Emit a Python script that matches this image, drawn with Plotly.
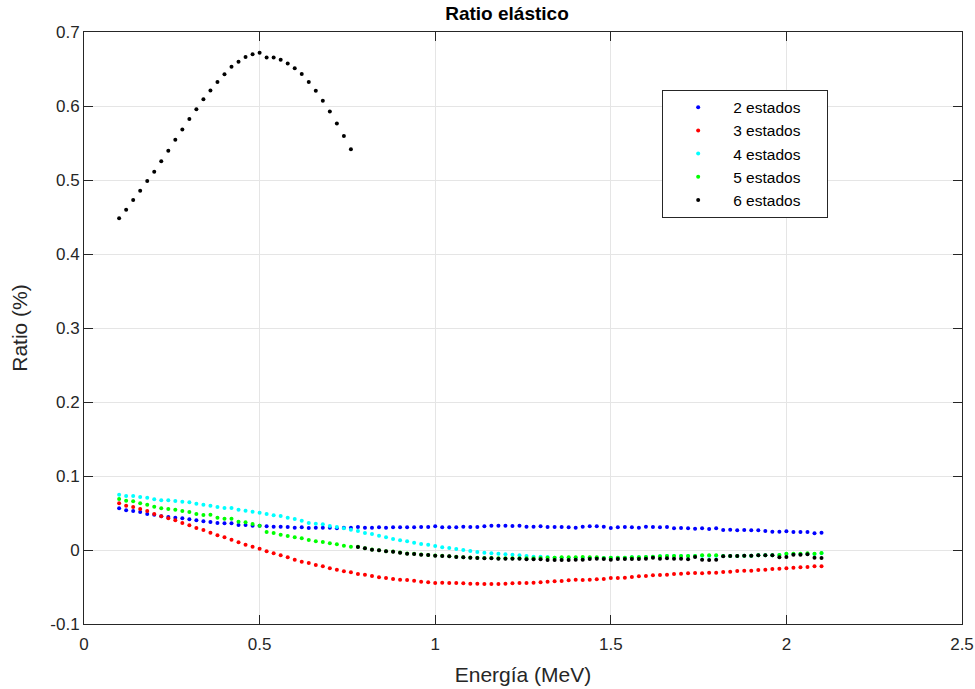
import plotly.graph_objects as go

energy = [round(0.10 + 0.02 * k, 2) for k in range(101)]

estados2 = [0.0563, 0.0536, 0.0527, 0.0514, 0.0486, 0.0477, 0.0455, 0.0446, 0.0437, 0.0428, 0.0414, 0.0401, 0.0387, 0.0378, 0.0365, 0.0360, 0.0360,
            0.0338, 0.0338, 0.0329, 0.0329, 0.0320, 0.0315, 0.0315, 0.0311, 0.0302, 0.0306, 0.0297, 0.0302, 0.0302, 0.0302, 0.0293, 0.0302,
            0.0302, 0.0311, 0.0302, 0.0302, 0.0306, 0.0302, 0.0306, 0.0306, 0.0306, 0.0306, 0.0311, 0.0311, 0.0320, 0.0306, 0.0306, 0.0306, 0.0315,
            0.0311, 0.0311, 0.0320, 0.0329, 0.0329, 0.0329, 0.0324, 0.0329, 0.0315, 0.0315, 0.0320, 0.0311, 0.0311, 0.0311, 0.0306, 0.0302, 0.0315,
            0.0320, 0.0320, 0.0315, 0.0297, 0.0306, 0.0311, 0.0306, 0.0302, 0.0315, 0.0311, 0.0306, 0.0311, 0.0293, 0.0297, 0.0293, 0.0288,
            0.0293, 0.0284, 0.0293, 0.0270, 0.0275, 0.0266, 0.0270, 0.0266, 0.0266, 0.0257, 0.0248, 0.0248, 0.0252, 0.0243, 0.0243, 0.0243, 0.0225, 0.0234]

estados3 = [0.0631, 0.0599, 0.0581, 0.0554, 0.0527, 0.0486, 0.0455, 0.0428, 0.0401, 0.0365, 0.0333, 0.0297, 0.0270, 0.0234, 0.0198, 0.0171, 0.0140,
            0.0104, 0.0072, 0.0045, 0.0018, -0.0018, -0.0045, -0.0072, -0.0099, -0.0131, -0.0158, -0.0176, -0.0203, -0.0221, -0.0248, -0.0266, -0.0288,
            -0.0302, -0.0324, -0.0333, -0.0351, -0.0369, -0.0378, -0.0392, -0.0401, -0.0405, -0.0414, -0.0428, -0.0437, -0.0446, -0.0441, -0.0446, -0.0446, -0.0450,
            -0.0455, -0.0455, -0.0459, -0.0459, -0.0459, -0.0455, -0.0450, -0.0446, -0.0446, -0.0441, -0.0437, -0.0428, -0.0423, -0.0419, -0.0410, -0.0401, -0.0405,
            -0.0401, -0.0396, -0.0392, -0.0378, -0.0378, -0.0374, -0.0365, -0.0356, -0.0351, -0.0342, -0.0338, -0.0333, -0.0324, -0.0320, -0.0315, -0.0311,
            -0.0315, -0.0306, -0.0306, -0.0297, -0.0293, -0.0284, -0.0279, -0.0279, -0.0270, -0.0266, -0.0257, -0.0252, -0.0248, -0.0239, -0.0234, -0.0230, -0.0221, -0.0221]

estados4 = [0.0748, 0.0730, 0.0730, 0.0716, 0.0707, 0.0685, 0.0671, 0.0671, 0.0662, 0.0653, 0.0644, 0.0626, 0.0613, 0.0599, 0.0581, 0.0568, 0.0568,
            0.0545, 0.0532, 0.0518, 0.0505, 0.0486, 0.0468, 0.0459, 0.0437, 0.0419, 0.0396, 0.0365, 0.0356, 0.0347, 0.0324, 0.0311, 0.0293,
            0.0275, 0.0257, 0.0230, 0.0216, 0.0194, 0.0171, 0.0149, 0.0131, 0.0117, 0.0099, 0.0081, 0.0072, 0.0054, 0.0036, 0.0027, 0.0014, 0.0000,
            -0.0014, -0.0027, -0.0036, -0.0045, -0.0050, -0.0059, -0.0063, -0.0072, -0.0081, -0.0090, -0.0090, -0.0095, -0.0104, -0.0104, -0.0104, -0.0104, -0.0104,
            -0.0104, -0.0104, -0.0108, -0.0104, -0.0104, -0.0104, -0.0099, -0.0099, -0.0095, -0.0090, -0.0086, -0.0081, -0.0081, -0.0081, -0.0081, -0.0081,
            -0.0077, -0.0077, -0.0077, -0.0081, -0.0081, -0.0081, -0.0077, -0.0077, -0.0072, -0.0072, -0.0072, -0.0068, -0.0054, -0.0054, -0.0054, -0.0050, -0.0054, -0.0045]

estados5 = [0.0689, 0.0667, 0.0658, 0.0631, 0.0613, 0.0586, 0.0563, 0.0554, 0.0545, 0.0527, 0.0514, 0.0486, 0.0473, 0.0477, 0.0437, 0.0423, 0.0423,
            0.0383, 0.0374, 0.0351, 0.0329, 0.0243, 0.0230, 0.0207, 0.0189, 0.0171, 0.0158, 0.0135, 0.0117, 0.0108, 0.0090, 0.0077, 0.0059,
            0.0045,
            0.0043, 0.0025, 0.0008, -0.0002, -0.0016, -0.0020, -0.0034, -0.0047, -0.0052, -0.0061, -0.0066, -0.0075, -0.0079, -0.0084, -0.0092, -0.0097,
            -0.0101, -0.0104, -0.0108, -0.0108, -0.0110, -0.0110, -0.0113, -0.0113, -0.0113, -0.0113, -0.0108, -0.0104, -0.0104, -0.0099, -0.0099, -0.0099,
            -0.0095, -0.0099, -0.0099, -0.0108, -0.0104, -0.0104, -0.0104, -0.0099, -0.0099, -0.0095, -0.0090, -0.0086, -0.0081, -0.0081, -0.0081, -0.0081, -0.0081,
            -0.0072, -0.0072, -0.0072, -0.0081, -0.0081, -0.0081, -0.0077, -0.0077, -0.0072, -0.0072, -0.0072, -0.0068, -0.0050, -0.0050, -0.0050, -0.0045, -0.0050, -0.0041]

estados6 = [0.4482, 0.4599, 0.4729, 0.4855, 0.4986, 0.5112, 0.5252, 0.5396, 0.5545, 0.5684, 0.5824, 0.5955, 0.6090, 0.6211, 0.6324, 0.6428, 0.6531,
            0.6599, 0.6662, 0.6698, 0.6720, 0.6657, 0.6657, 0.6626, 0.6576, 0.6509, 0.6432, 0.6324, 0.6207, 0.6072, 0.5927, 0.5765, 0.5594, 0.5414,
            0.0041, 0.0023, 0.0005, -0.0005, -0.0018, -0.0023, -0.0036, -0.0050, -0.0054, -0.0063, -0.0068, -0.0077, -0.0081, -0.0086, -0.0095, -0.0099,
            -0.0104, -0.0108, -0.0113, -0.0113, -0.0117, -0.0117, -0.0117, -0.0117, -0.0126, -0.0126, -0.0126, -0.0135, -0.0135, -0.0135, -0.0135, -0.0131, -0.0131,
            -0.0122, -0.0117, -0.0122, -0.0131, -0.0122, -0.0122, -0.0122, -0.0122, -0.0117, -0.0104, -0.0117, -0.0113, -0.0117, -0.0117, -0.0126, -0.0095,
            -0.0131, -0.0135, -0.0131, -0.0086, -0.0081, -0.0081, -0.0077, -0.0077, -0.0072, -0.0072, -0.0072, -0.0099, -0.0095, -0.0063, -0.0063, -0.0059, -0.0104, -0.0108]

series_names = ["2 estados", "3 estados", "4 estados", "5 estados", "6 estados"]
series_values = [estados2, estados3, estados4, estados5, estados6]
series_colors = ["#0000ff", "#ff0000", "#00ffff", "#00ff00", "#000000"]

x_ticks = [0, 0.5, 1, 1.5, 2, 2.5]
x_ticktext = ["0", "0.5", "1", "1.5", "2", "2.5"]
y_ticks = [-0.1, 0, 0.1, 0.2, 0.3, 0.4, 0.5, 0.6, 0.7]
y_ticktext = ["-0.1", "0", "0.1", "0.2", "0.3", "0.4", "0.5", "0.6", "0.7"]

FONT = "Liberation Sans, Arial, Helvetica, sans-serif"
PAD = "\u00a0" * 5  # right padding inside the legend box

fig = go.Figure()
for name, vals, col in zip(series_names, series_values, series_colors):
    fig.add_trace(go.Scatter(x=energy, y=vals, mode="markers", name=name + PAD,
                             marker=dict(color=col, size=4, line=dict(width=0))))

axis_common = dict(showline=True, linecolor="#262626", linewidth=1, mirror="ticks",
                   ticks="inside", ticklen=9, tickcolor="#262626", tickwidth=1,
                   showgrid=True, gridcolor="#e5e5e5", gridwidth=1, zeroline=False,
                   automargin=False,
                   tickfont=dict(family=FONT, size=17, color="#262626"))

fig.update_layout(
    width=975, height=689,
    margin=dict(l=84, r=13, t=32, b=65, autoexpand=False),
    paper_bgcolor="white", plot_bgcolor="white",
    font=dict(family=FONT, color="#262626"),
    title=dict(text="<b>Ratio elástico</b>", x=0.52, xanchor="center", y=0.99, yanchor="top",
               font=dict(family=FONT, size=19, color="#000000")),
    xaxis=dict(range=[0, 2.5], tickvals=x_ticks, ticktext=x_ticktext, ticklabelstandoff=5,
               title=dict(text="Energía (MeV)", font=dict(family=FONT, size=21, color="#262626"), standoff=13),
               **axis_common),
    yaxis=dict(range=[-0.1, 0.7], tickvals=y_ticks, ticktext=y_ticktext,
               title=dict(text="Ratio (%)", font=dict(family=FONT, size=21, color="#262626"), standoff=16),
               **axis_common),
    legend=dict(x=0.6585, y=0.9025, xanchor="left", yanchor="top",
                bgcolor="white", bordercolor="#262626", borderwidth=1,
                font=dict(family=FONT, size=15.5, color="#000000"),
                itemwidth=60, tracegroupgap=0),
    showlegend=True,
)

fig.write_html("out.html")
